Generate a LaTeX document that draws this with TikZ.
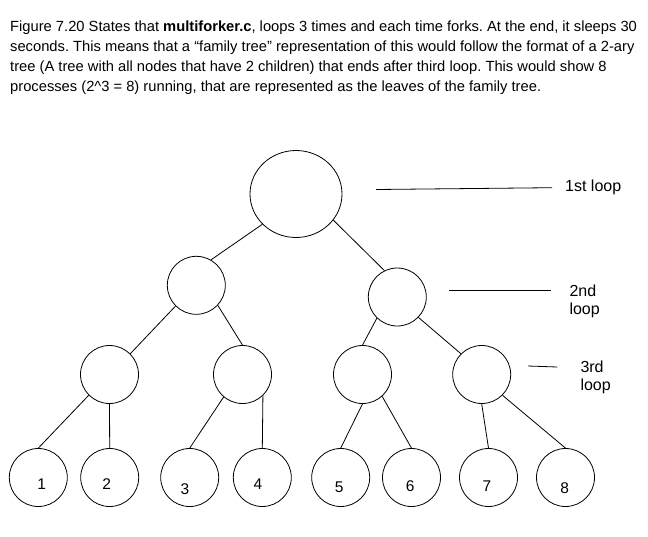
\documentclass[tikz,border=0pt]{standalone}
\usepackage{fontspec}
\setmainfont{Liberation Sans}
\usetikzlibrary{shapes.geometric}
\frenchspacing
\begin{document}
\begin{tikzpicture}[x=1pt,y=-1pt,
  proc/.style={circle,draw,line width=0.8pt,minimum size=58pt,inner sep=0pt},
  edge/.style={line width=0.8pt},
  num/.style={font=\fontsize{15.5}{18}\selectfont,inner sep=0pt},
  lbl/.style={font=\fontsize{16}{18}\selectfont,inner sep=0pt,anchor=base west},
  hdr/.style={font=\fontsize{14.72}{20}\selectfont,inner sep=0pt,anchor=base west}]
\useasboundingbox (0,0) rectangle (648,536);
\fill[white] (0,0) rectangle (648,536);

% header text
\node[hdr] (h1) at (10,31) {Figure 7.20 States that \textbf{multiforker.c}, loops 3 times and each time forks. At the end, it sleeps 30};
\node[hdr] (h2) at (10,51) {seconds. This means that a “family tree” representation of this would follow the format of a 2-ary};
\node[hdr] (h3) at (10,71) {tree (A tree with all nodes that have 2 children) that ends after third loop. This would show 8};
\node[hdr] (h4) at (10,91) {processes (2\^{}3 = 8) running, that are represented as the leaves of the family tree.};

% tree nodes
\node[ellipse,draw,line width=0.8pt,minimum width=92pt,minimum height=87pt,inner sep=0pt] (root) at (296,194) {};
\node[proc] (L2) at (196.3,285.3) {};
\node[proc] (R2) at (397.3,297) {};
\node[proc] (A) at (109.5,374.5) {};
\node[proc] (B) at (242.5,374.5) {};
\node[proc] (C) at (362.5,374.5) {};
\node[proc] (D) at (481.7,374.5) {};
\node[proc] (l1) at (38.3,477.5) {};
\node[proc] (l2) at (109.7,477.5) {};
\node[proc] (l3) at (189.7,477.5) {};
\node[proc] (l4) at (262.3,477.5) {};
\node[proc] (l5) at (340.7,477.5) {};
\node[proc] (l6) at (411.5,477.5) {};
\node[proc] (l7) at (488.5,477.5) {};
\node[proc] (l8) at (565.5,477.5) {};

% leaf numbers
\node[num] (n1) at (41.7,484) {1};
\node[num] (n2) at (106.7,484) {2};
\node[num] (n3) at (185,489.3) {3};
\node[num] (n4) at (258,484) {4};
\node[num] (n5) at (339.3,487.3) {5};
\node[num] (n6) at (410.3,486) {6};
\node[num] (n7) at (487,486) {7};
\node[num] (n8) at (564.7,488.3) {8};

% edges
\draw[edge] (root.222) -- (L2.60);
\draw[edge] (root.325) -- (R2.116);
\draw[edge] (L2.225) -- (A.45);
\draw[edge] (L2.317) -- (B.90);
\draw[edge] (R2.226) -- (C.90);
\draw[edge] (R2.316) -- (D.135);
\draw[edge] (A.225) -- (l1.90);
\draw[edge] (A.270) -- (l2.90);
\draw[edge] (B.230) -- (l3.90);
\draw[edge] (B.314) -- (l4.90);
\draw[edge] (C.270) -- (l5.90);
\draw[edge] (C.312) -- (l6.90);
\draw[edge] (D.270) -- (l7.90);
\draw[edge] (D.315) -- (l8.90);

% loop markers
\coordinate (m1a) at (376,189.5);
\coordinate (m1b) at (552,187.7);
\coordinate (m2a) at (449.3,290);
\coordinate (m2b) at (551,290);
\coordinate (m3a) at (528,366);
\coordinate (m3b) at (557.3,367);
\draw[edge] (m1a) -- (m1b);
\draw[edge] (m2a) -- (m2b);
\draw[edge] (m3a) -- (m3b);
\node[lbl] (t1) at (565,191.5) {1st loop};
\node[lbl] (t2a) at (569.3,296) {2nd};
\node[lbl] (t2b) at (569.3,314) {loop};
\node[lbl] (t3a) at (580.3,372.7) {3rd};
\node[lbl] (t3b) at (580.3,390) {loop};
\end{tikzpicture}
\end{document}
